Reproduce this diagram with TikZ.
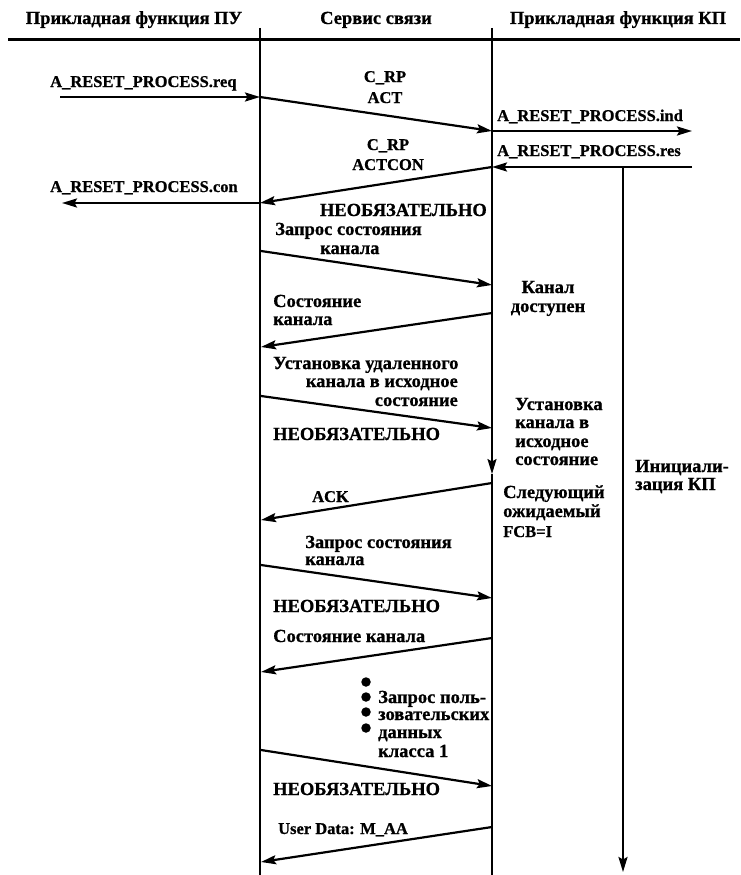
\documentclass[tikz,border=0pt]{standalone}
\usepackage{fontspec}
\setmainfont{Liberation Serif}[FakeBold=0.8]
\usetikzlibrary{arrows.meta}
\begin{document}
\begin{tikzpicture}[x=1pt,y=-1pt,
  lbl/.style={font=\fontsize{18.5}{20}\selectfont\bfseries, inner sep=0pt},
  lat/.style={font=\fontsize{16.5}{19}\selectfont\bfseries, inner sep=0pt},
  hdr/.style={font=\fontsize{18.5}{20}\selectfont\bfseries, inner sep=0pt, anchor=base},
  tip/.style={-{Stealth[length=15pt,width=9pt,inset=2.5pt]}},
  msg/.style={line width=2.2pt, tip},
  life/.style={line width=1.8pt},
  dotm/.style={circle, fill=black, inner sep=0pt, minimum size=9.5pt}]
\useasboundingbox (0,0) rectangle (740,875);
% header
\node[hdr] (h1) at (134,24) {Прикладная функция ПУ};
\node[hdr] (h2) at (376,24) {Сервис связи};
\node[hdr] (h3) at (618,24) {Прикладная функция КП};
\coordinate (hl) at (8,40); \coordinate (hr) at (740,40);
\draw[line width=3pt] (hl) -- (hr);
% lifelines
\coordinate (Lt) at (260,28); \coordinate (Lb) at (260,876);
\coordinate (Mt) at (492,28); \coordinate (Mm) at (492,474); \coordinate (Mb) at (492,876);
\draw[life] (Lt) -- (Lb);
\draw[life,tip] (Mt) -- (Mm);
\draw[life] (Mm) -- (Mb);
% arrow points
\coordinate (p1) at (60,97);   \coordinate (p2) at (260,97);
\coordinate (p3) at (492,131); \coordinate (p4) at (692,131);
\coordinate (p5) at (692,167); \coordinate (p6) at (492,167);
\coordinate (p7) at (260,203); \coordinate (p8) at (62,203);
\coordinate (q1) at (261,251); \coordinate (q2) at (492,285);
\coordinate (q3) at (492,313); \coordinate (q4) at (261,347);
\coordinate (q5) at (261,396); \coordinate (q6) at (492,428);
\coordinate (q7) at (492,483); \coordinate (q8) at (261,520);
\coordinate (q9) at (261,565); \coordinate (q10) at (492,598);
\coordinate (q11) at (492,638); \coordinate (q12) at (261,672);
\coordinate (q13) at (261,750); \coordinate (q14) at (492,786);
\coordinate (q15) at (492,827); \coordinate (q16) at (261,862);
\coordinate (r1) at (623,167); \coordinate (r2) at (623,872);
\draw[msg] (p1) -- (p2);
\draw[msg] (p2) -- (p3);
\draw[msg] (p3) -- (p4);
\draw[msg] (p5) -- (p6);
\draw[msg] (p6) -- (p7);
\draw[msg] (p7) -- (p8);
\draw[msg] (q1) -- (q2);
\draw[msg] (q3) -- (q4);
\draw[msg] (q5) -- (q6);
\draw[msg] (q7) -- (q8);
\draw[msg] (q9) -- (q10);
\draw[msg] (q11) -- (q12);
\draw[msg] (q13) -- (q14);
\draw[msg] (q15) -- (q16);
\draw[msg] (r1) -- (r2);
% labels
\node[lat,anchor=base west] (t1) at (50,87) {A\_RESET\_PROCESS.req};
\node[lat,anchor=base] (t2) at (385,82) {C\_RP};
\node[lat,anchor=base] (t3) at (385,103) {ACT};
\node[lat,anchor=base west] (t4) at (497,121) {A\_RESET\_PROCESS.ind};
\node[lat,anchor=base west] (t5) at (497,156) {A\_RESET\_PROCESS.res};
\node[lat,anchor=base] (t6) at (388,150) {C\_RP};
\node[lat,anchor=base] (t7) at (388,170) {ACTCON};
\node[lat,anchor=base west] (t8) at (50,192) {A\_RESET\_PROCESS.con};
\node[lbl,anchor=base east] (t9) at (487,216) {НЕОБЯЗАТЕЛЬНО};
\node[lbl,anchor=base west] (t10) at (275,235) {Запрос состояния};
\node[lbl,anchor=base west] (t11) at (320,254) {канала};
\node[lbl,anchor=base] (t12) at (548,293) {Канал};
\node[lbl,anchor=base] (t13) at (548,312) {доступен};
\node[lbl,anchor=base west] (t14) at (273,307) {Состояние};
\node[lbl,anchor=base west] (t15) at (273,325) {канала};
\node[lbl,anchor=base west] (t16) at (273,369) {Установка удаленного};
\node[lbl,anchor=base east] (t17) at (458,387) {канала в исходное};
\node[lbl,anchor=base east] (t18) at (458,406) {состояние};
\node[lbl,anchor=base west] (t19) at (273,440) {НЕОБЯЗАТЕЛЬНО};
\node[lbl,anchor=base west] (t20) at (515,410) {Установка};
\node[lbl,anchor=base west] (t21) at (515,428) {канала в};
\node[lbl,anchor=base west] (t22) at (515,447) {исходное};
\node[lbl,anchor=base west] (t23) at (515,465) {состояние};
\node[lbl,anchor=base west] (t24) at (635,472) {Инициали-};
\node[lbl,anchor=base west] (t25) at (635,490) {зация КП};
\node[lat,anchor=base west] (t26) at (312,502) {ACK};
\node[lbl,anchor=base west] (t27) at (503,498) {Следующий};
\node[lbl,anchor=base west] (t28) at (503,517) {ожидаемый};
\node[lat,anchor=base west] (t29) at (503,537) {FCB=I};
\node[lbl,anchor=base west] (t30) at (305,548) {Запрос состояния};
\node[lbl,anchor=base west] (t31) at (305,565) {канала};
\node[lbl,anchor=base west] (t32) at (273,612) {НЕОБЯЗАТЕЛЬНО};
\node[lbl,anchor=base west] (t33) at (273,642) {Состояние канала};
\node[dotm] (d1) at (366,682) {};
\node[dotm] (d2) at (366,697) {};
\node[dotm] (d3) at (366,712) {};
\node[dotm] (d4) at (366,728) {};
\node[lbl,anchor=base west] (t34) at (378,703) {Запрос поль-};
\node[lbl,anchor=base west] (t35) at (378,720) {зовательских};
\node[lbl,anchor=base west] (t36) at (378,738) {данных};
\node[lbl,anchor=base west] (t37) at (378,757) {класса 1};
\node[lbl,anchor=base west] (t38) at (273,795) {НЕОБЯЗАТЕЛЬНО};
\node[lat,anchor=base west] (t39) at (278,834) {User Data: M\_AA};
\end{tikzpicture}
\end{document}
